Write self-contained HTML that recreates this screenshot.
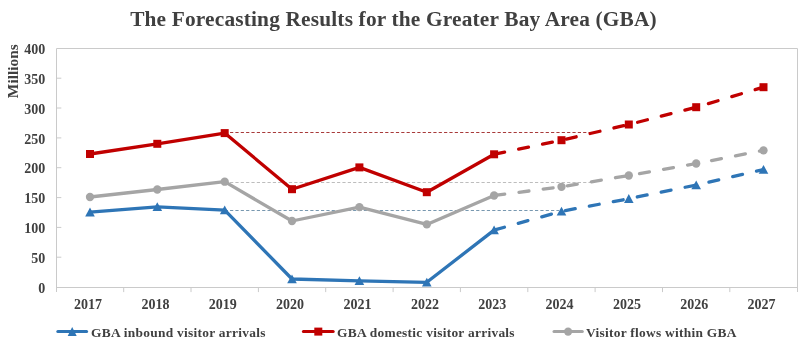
<!DOCTYPE html><html><head><meta charset="utf-8"><style>html,body{margin:0;padding:0;background:#fff;width:800px;height:339px;overflow:hidden}svg{display:block;will-change:transform}text{font-family:"Liberation Serif",serif;font-weight:bold;fill:#404040}</style></head><body>
<svg width="800" height="339" viewBox="0 0 800 339">
<text x="393.5" y="26" font-size="21.33" letter-spacing="0.18" text-anchor="middle">The Forecasting Results for the Greater Bay Area (GBA)</text>
<path d="M56.5 292 V48.5 H797.5 V292" fill="none" stroke="#CACACA" stroke-width="1"/>
<path d="M56.5 287.5 H797.5" fill="none" stroke="#CACACA" stroke-width="1"/>
<path d="M56.3 257.2 H61.3" stroke="#CACACA" stroke-width="1"/>
<path d="M56.3 227.4 H61.3" stroke="#CACACA" stroke-width="1"/>
<path d="M56.3 197.6 H61.3" stroke="#CACACA" stroke-width="1"/>
<path d="M56.3 167.7 H61.3" stroke="#CACACA" stroke-width="1"/>
<path d="M56.3 137.9 H61.3" stroke="#CACACA" stroke-width="1"/>
<path d="M56.3 108.0 H61.3" stroke="#CACACA" stroke-width="1"/>
<path d="M56.3 78.2 H61.3" stroke="#CACACA" stroke-width="1"/>
<path d="M123.7 287.1 V292.1" stroke="#CACACA" stroke-width="1"/>
<path d="M191.0 287.1 V292.1" stroke="#CACACA" stroke-width="1"/>
<path d="M258.4 287.1 V292.1" stroke="#CACACA" stroke-width="1"/>
<path d="M325.7 287.1 V292.1" stroke="#CACACA" stroke-width="1"/>
<path d="M393.1 287.1 V292.1" stroke="#CACACA" stroke-width="1"/>
<path d="M460.4 287.1 V292.1" stroke="#CACACA" stroke-width="1"/>
<path d="M527.8 287.1 V292.1" stroke="#CACACA" stroke-width="1"/>
<path d="M595.1 287.1 V292.1" stroke="#CACACA" stroke-width="1"/>
<path d="M662.5 287.1 V292.1" stroke="#CACACA" stroke-width="1"/>
<path d="M729.8 287.1 V292.1" stroke="#CACACA" stroke-width="1"/>
<text x="45.2" y="292.7" font-size="14" text-anchor="end">0</text>
<text x="45.2" y="262.9" font-size="14" text-anchor="end">50</text>
<text x="45.2" y="233.0" font-size="14" text-anchor="end">100</text>
<text x="45.2" y="203.2" font-size="14" text-anchor="end">150</text>
<text x="45.2" y="173.3" font-size="14" text-anchor="end">200</text>
<text x="45.2" y="143.5" font-size="14" text-anchor="end">250</text>
<text x="45.2" y="113.6" font-size="14" text-anchor="end">300</text>
<text x="45.2" y="83.8" font-size="14" text-anchor="end">350</text>
<text x="45.2" y="53.9" font-size="14" text-anchor="end">400</text>
<text transform="translate(17.8 71.2) rotate(-90)" font-size="15.4" text-anchor="middle">Millions</text>
<text x="88.1" y="308.5" font-size="14" text-anchor="middle">2017</text>
<text x="155.4" y="308.5" font-size="14" text-anchor="middle">2018</text>
<text x="222.8" y="308.5" font-size="14" text-anchor="middle">2019</text>
<text x="290.1" y="308.5" font-size="14" text-anchor="middle">2020</text>
<text x="357.5" y="308.5" font-size="14" text-anchor="middle">2021</text>
<text x="424.9" y="308.5" font-size="14" text-anchor="middle">2022</text>
<text x="492.2" y="308.5" font-size="14" text-anchor="middle">2023</text>
<text x="559.6" y="308.5" font-size="14" text-anchor="middle">2024</text>
<text x="626.9" y="308.5" font-size="14" text-anchor="middle">2025</text>
<text x="694.3" y="308.5" font-size="14" text-anchor="middle">2026</text>
<text x="761.6" y="308.5" font-size="14" text-anchor="middle">2027</text>
<path d="M224.7 132.5 H591" stroke="#A83A3A" stroke-width="1" stroke-dasharray="3.2 2.15"/>
<path d="M224.7 182.5 H591" stroke="#BDBDBD" stroke-width="1" stroke-dasharray="3.2 2.15"/>
<path d="M224.7 210.5 H559" stroke="#7898B0" stroke-width="1" stroke-dasharray="3.2 2.15"/>
<polyline points="90.0,212.2 157.3,206.8 224.7,210.1 292.0,279.0 359.4,280.8 426.8,282.3 494.1,230.1" fill="none" stroke="#2E75B6" stroke-width="3.30" stroke-linejoin="round"/>
<polyline points="494.1,230.1 561.5,211.3 628.8,198.7 696.2,185.0 763.5,169.5" fill="none" stroke="#2E75B6" stroke-width="3.30" stroke-dasharray="10 14.4" stroke-dashoffset="-0.7" stroke-linecap="round" stroke-linejoin="round"/>
<path d="M90.0 207.6 L94.8 216.4 L85.2 216.4 Z" fill="#2E75B6"/>
<path d="M157.3 202.2 L162.1 211.0 L152.5 211.0 Z" fill="#2E75B6"/>
<path d="M224.7 205.5 L229.5 214.3 L219.9 214.3 Z" fill="#2E75B6"/>
<path d="M292.0 274.4 L296.8 283.2 L287.2 283.2 Z" fill="#2E75B6"/>
<path d="M359.4 276.2 L364.2 285.0 L354.6 285.0 Z" fill="#2E75B6"/>
<path d="M426.8 277.7 L431.6 286.5 L422.0 286.5 Z" fill="#2E75B6"/>
<path d="M494.1 225.5 L498.9 234.3 L489.3 234.3 Z" fill="#2E75B6"/>
<path d="M561.5 206.7 L566.3 215.5 L556.7 215.5 Z" fill="#2E75B6"/>
<path d="M628.8 194.1 L633.6 202.9 L624.0 202.9 Z" fill="#2E75B6"/>
<path d="M696.2 180.4 L701.0 189.2 L691.4 189.2 Z" fill="#2E75B6"/>
<path d="M763.5 164.9 L768.3 173.7 L758.7 173.7 Z" fill="#2E75B6"/>
<polyline points="90.0,197.0 157.3,189.5 224.7,181.7 292.0,221.0 359.4,207.1 426.8,224.4 494.1,195.5" fill="none" stroke="#A5A5A5" stroke-width="3.30" stroke-linejoin="round"/>
<polyline points="494.1,195.5 561.5,186.8 628.8,175.5 696.2,163.5 763.5,150.4" fill="none" stroke="#A5A5A5" stroke-width="3.30" stroke-dasharray="10 14.4" stroke-dashoffset="-0.7" stroke-linecap="round" stroke-linejoin="round"/>
<circle cx="90.0" cy="197.0" r="4.15" fill="#A5A5A5"/>
<circle cx="157.3" cy="189.5" r="4.15" fill="#A5A5A5"/>
<circle cx="224.7" cy="181.7" r="4.15" fill="#A5A5A5"/>
<circle cx="292.0" cy="221.0" r="4.15" fill="#A5A5A5"/>
<circle cx="359.4" cy="207.1" r="4.15" fill="#A5A5A5"/>
<circle cx="426.8" cy="224.4" r="4.15" fill="#A5A5A5"/>
<circle cx="494.1" cy="195.5" r="4.15" fill="#A5A5A5"/>
<circle cx="561.5" cy="186.8" r="4.15" fill="#A5A5A5"/>
<circle cx="628.8" cy="175.5" r="4.15" fill="#A5A5A5"/>
<circle cx="696.2" cy="163.5" r="4.15" fill="#A5A5A5"/>
<circle cx="763.5" cy="150.4" r="4.15" fill="#A5A5A5"/>
<polyline points="90.0,154.0 157.3,143.8 224.7,133.1 292.0,189.2 359.4,167.4 426.8,192.2 494.1,154.3" fill="none" stroke="#C00000" stroke-width="3.30" stroke-linejoin="round"/>
<polyline points="494.1,154.3 561.5,140.2 628.8,124.5 696.2,107.2 763.5,87.2" fill="none" stroke="#C00000" stroke-width="3.30" stroke-dasharray="10 14.4" stroke-dashoffset="-0.7" stroke-linecap="round" stroke-linejoin="round"/>
<rect x="86.0" y="150.0" width="8" height="8" fill="#C00000"/>
<rect x="153.3" y="139.8" width="8" height="8" fill="#C00000"/>
<rect x="220.7" y="129.1" width="8" height="8" fill="#C00000"/>
<rect x="288.0" y="185.2" width="8" height="8" fill="#C00000"/>
<rect x="355.4" y="163.4" width="8" height="8" fill="#C00000"/>
<rect x="422.8" y="188.2" width="8" height="8" fill="#C00000"/>
<rect x="490.1" y="150.3" width="8" height="8" fill="#C00000"/>
<rect x="557.5" y="136.2" width="8" height="8" fill="#C00000"/>
<rect x="624.8" y="120.5" width="8" height="8" fill="#C00000"/>
<rect x="692.2" y="103.2" width="8" height="8" fill="#C00000"/>
<rect x="759.5" y="83.2" width="8" height="8" fill="#C00000"/>
<path d="M57.8 331.6 H86.6" stroke="#2E75B6" stroke-width="3" stroke-linecap="round"/>
<path d="M72.2 327.1 L76.7 336.1 L67.7 336.1 Z" fill="#2E75B6"/>
<text x="91.0" y="336.8" font-size="13.4" letter-spacing="0.28">GBA inbound visitor arrivals</text>
<path d="M303.4 331.6 H333.2" stroke="#C00000" stroke-width="3" stroke-linecap="round"/>
<rect x="314.3" y="327.6" width="8" height="8" fill="#C00000"/>
<text x="337.0" y="336.8" font-size="13.4" letter-spacing="0.28">GBA domestic visitor arrivals</text>
<path d="M554.0 331.6 H582.3" stroke="#A5A5A5" stroke-width="3" stroke-linecap="round"/>
<circle cx="568.1" cy="331.6" r="4.15" fill="#A5A5A5"/>
<text x="586.0" y="336.8" font-size="13.4" letter-spacing="0.28">Visitor flows within GBA</text>
</svg></body></html>
